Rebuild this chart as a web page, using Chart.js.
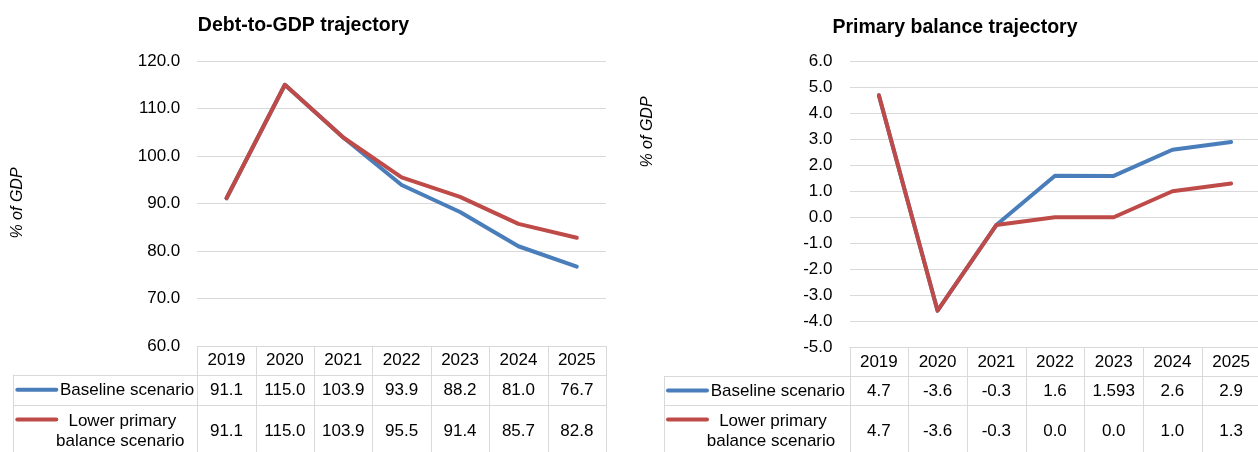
<!DOCTYPE html>
<html>
<head>
<meta charset="utf-8">
<script src="https://cdn.jsdelivr.net/npm/chart.js@4.4.1/dist/chart.umd.min.js"></script>
<style>
  html, body { margin: 0; padding: 0; background: #fff; overflow: hidden; width: 1258px; height: 452px; }
  #debt { position: absolute; left: 0; top: 0; }
  #pb { position: absolute; left: 629px; top: 0; }
</style>
</head>
<body>
<canvas id="debt" width="629" height="452"></canvas>
<canvas id="pb" width="634" height="452"></canvas>
<script>
// Years shown along both charts and as table header
const years = ['2019', '2020', '2021', '2022', '2023', '2024', '2025'];

// Debt-to-GDP, % of GDP
const debtBaseline = [91.1, 115.0, 103.9, 93.9, 88.2, 81.0, 76.7];
const debtLower    = [91.1, 115.0, 103.9, 95.5, 91.4, 85.7, 82.8];

// Primary balance, % of GDP
const pbBaseline = [4.7, -3.6, -0.3, 1.6, 1.593, 2.6, 2.9];
const pbLower    = [4.7, -3.6, -0.3, 0.0, 0.0, 1.0, 1.3];

// Value-axis ranges
const debtAxis = { min: 60, max: 120, step: 10 };
const pbAxis   = { min: -5, max: 6, step: 1 };

// Series names (second one wraps onto two lines in the table)
const baselineName = 'Baseline scenario';
const lowerName = ['Lower primary', 'balance scenario'];

const BLUE = '#4a7ebb';
const RED = '#be4b48';
const GRID = '#d9d9d9';
const FONT = 'Liberation Sans';

function fmt(v) {
  const t = v * 10;
  return Math.abs(t - Math.round(t)) < 1e-9 ? v.toFixed(1) : String(v);
}

// Draws the chart title, the value-axis title and the Excel-style data table
function decorPlugin(cfg) {
  return {
    id: 'decor',
    afterDraw(chart) {
      const ctx = chart.ctx;
      const a = chart.chartArea;
      const xs = chart.scales.x;
      const n = chart.data.labels.length;
      const colW = (a.right - a.left) / n;
      const top = a.bottom;
      const r1 = top + cfg.headerH;
      const r2 = r1 + cfg.row1H;
      const bot = chart.height;
      const px = v => Math.round(v) + 0.5;

      ctx.save();
      // title
      ctx.fillStyle = '#000';
      ctx.font = 'bold 19.5px "' + FONT + '"';
      ctx.textAlign = 'center';
      ctx.textBaseline = 'alphabetic';
      ctx.fillText(cfg.title, cfg.titleX, cfg.titleY);

      // value-axis title
      ctx.save();
      ctx.translate(cfg.axisTitleX, cfg.axisTitleY);
      ctx.rotate(-Math.PI / 2);
      ctx.font = 'italic 16px "' + FONT + '"';
      ctx.textAlign = 'center';
      ctx.textBaseline = 'middle';
      ctx.fillText('% of GDP', 0, 0);
      ctx.restore();

      // table grid
      ctx.strokeStyle = GRID;
      ctx.lineWidth = 1;
      ctx.beginPath();
      ctx.moveTo(a.left, px(top)); ctx.lineTo(a.right, px(top));
      ctx.moveTo(cfg.labelLeft, px(r1)); ctx.lineTo(a.right, px(r1));
      ctx.moveTo(cfg.labelLeft, px(r2)); ctx.lineTo(a.right, px(r2));
      for (let i = 0; i <= n; i++) {
        const xx = px(a.left + i * colW);
        ctx.moveTo(xx, top); ctx.lineTo(xx, bot);
      }
      ctx.moveTo(px(cfg.labelLeft), r1); ctx.lineTo(px(cfg.labelLeft), bot);
      ctx.stroke();

      // table text
      ctx.fillStyle = '#000';
      ctx.font = '17px "' + FONT + '"';
      ctx.textBaseline = 'middle';
      ctx.textAlign = 'center';
      const ds = chart.data.datasets;
      for (let i = 0; i < n; i++) {
        const cx = xs.getPixelForValue(i);
        ctx.fillText(chart.data.labels[i], cx, top + cfg.headerH / 2 + 0.5);
        ctx.fillText(fmt(ds[0].data[i]), cx, r1 + cfg.row1H / 2 + 0.5);
        ctx.fillText(fmt(ds[1].data[i]), cx, r2 + 26);
      }

      // series labels with line keys
      ctx.lineCap = 'round';
      ctx.lineWidth = 4;
      ctx.strokeStyle = ds[0].borderColor;
      ctx.beginPath();
      ctx.moveTo(cfg.labelLeft + 4, r1 + cfg.row1H / 2);
      ctx.lineTo(cfg.labelLeft + 43, r1 + cfg.row1H / 2);
      ctx.stroke();
      ctx.strokeStyle = ds[1].borderColor;
      ctx.beginPath();
      ctx.moveTo(cfg.labelLeft + 4, r2 + 14.5);
      ctx.lineTo(cfg.labelLeft + 43, r2 + 14.5);
      ctx.stroke();

      ctx.textAlign = 'left';
      ctx.fillText(baselineName, cfg.labelLeft + 46.7, r1 + cfg.row1H / 2 + 0.5);
      ctx.textAlign = 'center';
      ctx.fillText(lowerName[0], cfg.labelLeft + 109, r2 + 16.5);
      ctx.fillText(lowerName[1], cfg.labelLeft + 107, r2 + 36.5);
      ctx.restore();
    }
  };
}

function makeChart(id, s1, s2, axis, pad, cfg) {
  const line = (label, data, color, order) => ({
    label, data, order,
    borderColor: color,
    backgroundColor: color,
    borderWidth: 4,
    pointRadius: 0,
    tension: 0,
    fill: false,
    borderCapStyle: 'round',
    borderJoinStyle: 'round'
  });
  return new Chart(document.getElementById(id), {
    type: 'line',
    data: {
      labels: years,
      datasets: [
        // baseline sits underneath the lower-balance line
        line(baselineName, s1, BLUE, 1),
        line(lowerName.join(' '), s2, RED, 0)
      ]
    },
    options: {
      responsive: false,
      devicePixelRatio: 1,
      animation: false,
      events: [],
      layout: { padding: pad },
      plugins: { legend: { display: false }, title: { display: false }, tooltip: { enabled: false } },
      scales: {
        x: { display: false, offset: true },
        y: {
          min: axis.min,
          max: axis.max,
          ticks: {
            stepSize: axis.step,
            maxTicksLimit: 30,
            padding: 17,
            color: '#000',
            font: { family: FONT, size: 17 },
            callback: v => Number(v).toFixed(1)
          },
          grid: { color: GRID, lineWidth: 1, drawTicks: false },
          border: { display: false },
          afterFit(s) { s.width = cfg.axisW; }
        }
      }
    },
    plugins: [decorPlugin(cfg)]
  });
}

makeChart('debt', debtBaseline, debtLower, debtAxis,
  { left: 0, top: 61, right: 23, bottom: 106 },
  { axisW: 197.3, headerH: 28.5, row1H: 30.5, labelLeft: 13.3,
    title: 'Debt-to-GDP trajectory', titleX: 303.5, titleY: 30.5,
    axisTitleX: 18, axisTitleY: 203 });

makeChart('pb', pbBaseline, pbLower, pbAxis,
  { left: 0, top: 61.5, right: 2.5, bottom: 105 },
  { axisW: 220.5, headerH: 29, row1H: 29, labelLeft: 35,
    title: 'Primary balance trajectory', titleX: 326, titleY: 32.5,
    axisTitleX: 19, axisTitleY: 132 });
</script>
</body>
</html>
